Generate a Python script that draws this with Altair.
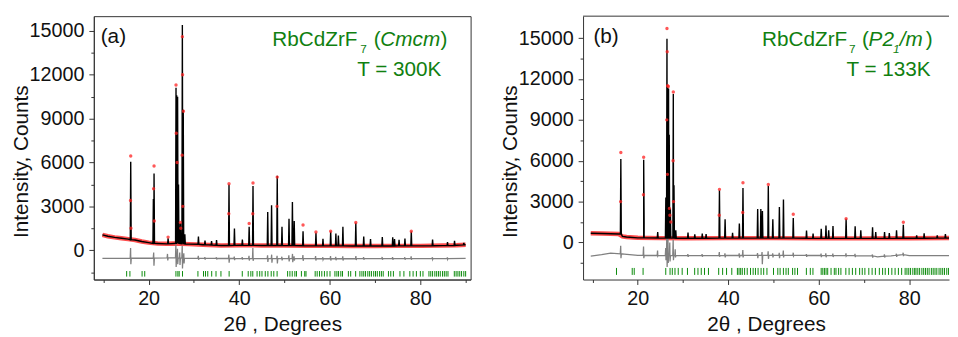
import altair as alt
import pandas as pd

FONT = "Liberation Sans"
GREEN = "#108010"

# ---------------- Panel (a): RbCdZrF7 (Cmcm), T = 300 K ----------------
a_bg_x = [9.8, 11.0, 12.5, 14.0, 15.5, 17.0, 18.5, 20.0, 22.0, 24.0,
          25.5, 29.0, 32.0, 36.0, 40.0, 45.0, 50.0, 55.0, 60.0, 65.0,
          70.0, 75.0, 80.0, 85.0, 88.0, 90.0]
a_bg_y = [1050, 960, 880, 820, 760, 700, 600, 520, 460, 440,
          460, 420, 380, 330, 340, 330, 320, 300, 300, 290,
          290, 300, 300, 320, 340, 380]

a_pk_pos = [16.05, 21.05, 21.2, 24.3, 26.05, 26.2, 26.4, 26.6, 27.0, 27.45,
            27.65, 28.0, 31.0, 32.45, 33.9, 35.0, 37.75, 38.95, 40.7, 42.2,
            43.05, 46.3, 47.15, 48.4, 49.45, 51.0, 51.75, 52.15, 54.1, 56.95,
            58.5, 60.2, 61.35, 61.9, 62.9, 65.75, 67.5, 69.0, 71.6, 73.9,
            74.3, 75.3, 76.6, 78.0, 82.7, 86.0, 87.55, 89.6]
a_pk_top = [6050, 3500, 5250, 820, 11100, 10600, 10500, 4500, 1850, 15400,
            9600, 1100, 940, 670, 620, 700, 4490, 1490, 740, 1610,
            4400, 2620, 3070, 5090, 1610, 2150, 3300, 2000, 1300, 1190,
            780, 1280, 1140, 1000, 1600, 1880, 940, 760, 910, 890,
            760, 720, 800, 1280, 740, 560, 640, 500]
a_pk_base = [720, 470, 470, 440, 470, 470, 470, 470, 460, 450,
             450, 440, 410, 380, 360, 345, 330, 335, 340, 335,
             335, 330, 330, 325, 325, 320, 320, 320, 310, 300,
             300, 300, 300, 300, 300, 290, 290, 290, 290, 295,
             295, 300, 300, 300, 310, 320, 330, 370]

a_obs_x = [16.05, 16.0, 16.1, 21.2, 21.1, 21.25, 24.3, 26.05, 26.1, 26.3,
           27.0, 27.1, 27.45, 27.4, 27.5, 27.55, 27.7, 37.75, 37.7, 42.2,
           43.05, 43.0, 48.4, 48.35, 54.1, 56.95, 60.2, 65.75, 78.0]
a_obs_y = [6440, 3400, 1500, 5760, 4200, 2000, 900, 11300, 8000, 6000,
           1900, 1500, 14600, 6500, 12000, 3000, 9500, 4550, 2500, 1830,
           4600, 2500, 5000, 3000, 1730, 1250, 1300, 1900, 1300]

a_df_x = [9.8, 24.0, 30.0, 60.0, 90.0]
a_df_y = [-560, -520, -560, -580, -560]
a_sp_pos = [16.05, 21.15, 24.2, 26.05, 26.4, 26.9, 27.45, 27.8, 31.0, 32.45,
            35.0, 37.75, 38.95, 40.7, 42.2, 43.05, 46.3, 47.2, 48.4, 49.45,
            51.0, 51.8, 52.15, 54.1, 56.9, 58.5, 60.2, 61.35, 62.9, 65.8,
            67.5, 71.6, 73.9, 76.6, 78.0, 82.7, 86.0]
a_sp_hi = [150, -150, -250, 400, 100, -150, 300, -200, -380, -470,
           -480, -300, -430, -470, -380, 150, -350, -300, -380, -440,
           -350, -250, -420, -330, -400, -480, -400, -450, -420, -400,
           -470, -460, -470, -480, -420, -480, -490]
a_sp_lo = [-950, -1050, -700, -1150, -950, -1000, -1250, -900, -650, -640,
           -630, -850, -680, -640, -700, -720, -800, -850, -900, -690,
           -760, -820, -700, -720, -700, -640, -700, -680, -700, -660,
           -650, -650, -640, -650, -650, -630, -620]
a_sp_base = [-545, -535, -520, -525, -528, -532, -535, -540, -555, -558,
             -560, -562, -563, -564, -565, -566, -568, -569, -570, -571,
             -572, -572, -573, -575, -577, -579, -580, -580, -579, -577,
             -576, -574, -573, -572, -570, -567, -564]

a_bragg = [15.15, 15.87, 18.56, 19.14, 26.03, 26.46, 26.75, 27.48, 30.89, 32.12,
           32.56, 33.06, 33.93, 34.88, 35.97, 37.78, 40.68, 41.99, 42.57, 43.0,
           43.95, 44.53, 45.03, 45.76, 46.34, 47.07, 47.64, 48.37, 50.69, 51.2,
           51.71, 52.29, 52.65, 53.74, 54.47, 54.75, 56.78, 57.22, 57.73, 58.24,
           58.82, 59.4, 60.05, 61.14, 61.57, 61.94, 62.44, 62.81, 64.11, 64.62,
           65.71, 66.65, 67.1, 67.5, 67.9, 68.4, 68.8, 69.2, 69.7, 70.1,
           70.5, 71.0, 71.4, 71.8, 72.96, 73.47, 74.05, 75.5, 76.37, 77.68,
           78.4, 79.13, 80.0, 80.58, 81.9, 82.3, 82.7, 83.2, 83.6, 84.0,
           84.4, 84.9, 85.3, 85.7, 86.1, 87.5, 87.9, 88.3, 88.7, 89.1,
           89.6, 90.0]

# ---------------- Panel (b): RbCdZrF7 (P21/m), T = 133 K ----------------
b_bg_x = [9.6, 12.0, 14.0, 15.8, 16.6, 17.5, 20.0, 25.0, 30.0, 40.0,
          50.0, 60.0, 70.0, 80.0, 90.0]
b_bg_y = [680, 660, 640, 620, 450, 400, 340, 320, 310, 320,
          320, 300, 300, 310, 330]

b_pk_pos = [16.25, 21.3, 21.4, 24.4, 26.2, 26.45, 26.6, 26.8, 26.95, 27.2,
            27.85, 28.0, 28.4, 31.1, 32.6, 34.25, 35.1, 38.05, 39.3, 40.95,
            42.45, 43.25, 46.5, 47.2, 47.55, 48.85, 49.85, 51.3, 52.2, 54.37,
            57.3, 58.75, 60.55, 61.6, 62.2, 63.15, 66.05, 68.05, 69.3, 71.9,
            72.6, 74.55, 75.6, 77.2, 78.7, 81.65, 83.3, 86.2, 88.0]
b_pk_top = [6120, 6070, 1500, 770, 3300, 14950, 11400, 11300, 7900, 2500,
            10900, 4200, 900, 720, 600, 650, 620, 3830, 1700, 700,
            1400, 4000, 2460, 2450, 2300, 4150, 1700, 2600, 3150, 1800,
            870, 650, 1010, 1250, 900, 1200, 1740, 1180, 890, 1120,
            770, 770, 700, 890, 1300, 530, 680, 530, 620]
b_pk_base = [620, 340, 340, 325, 320, 320, 320, 320, 320, 320,
             318, 318, 315, 310, 310, 312, 314, 318, 320, 320,
             320, 320, 320, 320, 320, 320, 320, 320, 318, 316,
             308, 305, 302, 302, 302, 301, 300, 300, 300, 301,
             302, 304, 305, 306, 308, 311, 314, 318, 322]

b_obs_x = [16.25, 16.2, 21.3, 21.25, 26.45, 26.4, 26.5, 26.55, 26.6, 26.75,
           27.0, 27.1, 27.3, 27.85, 27.8, 27.9, 38.05, 38.0, 43.25, 43.2,
           48.85, 54.37, 66.05, 78.7]
b_obs_y = [6600, 3000, 6260, 3500, 15700, 9000, 14000, 5000, 11500, 11450,
           2500, 2000, 1500, 11050, 6000, 3000, 3900, 2000, 4380, 2200,
           4260, 2070, 1750, 1490]

b_df_x = [9.6, 12.0, 14.0, 17.0, 20.0, 30.0, 50.0, 70.0, 73.0, 76.0,
          78.5, 80.0, 90.0]
b_df_y = [-1000, -900, -780, -850, -950, -960, -950, -980, -1050, -980,
          -900, -970, -970]
b_sp_pos = [16.25, 21.3, 24.4, 26.2, 26.45, 26.7, 27.1, 27.85, 28.3, 31.1,
            34.25, 38.05, 39.3, 42.45, 43.25, 46.5, 47.5, 48.85, 49.85, 51.3,
            52.2, 54.4, 57.3, 60.55, 61.6, 63.15, 66.05, 68.05, 71.9, 74.55,
            77.2, 78.7]
b_sp_hi = [-250, -300, -600, -400, 650, 300, 0, 200, -500, -850,
           -860, -700, -800, -800, -550, -780, -700, -650, -800, -760,
           -600, -750, -860, -820, -800, -810, -800, -840, -880, -870,
           -830, -750]
b_sp_lo = [-1150, -1150, -1000, -1300, -1800, -1500, -1400, -1300, -1100, -1060,
           -1050, -1050, -1100, -1120, -1100, -1150, -1600, -1200, -1100, -1150,
           -1100, -1000, -1060, -1080, -1090, -1070, -1000, -1080, -1120, -1100,
           -1060, -1000]
b_sp_base = [-830, -950, -955, -958, -958, -958, -958, -958, -958, -959,
             -959, -958, -957, -956, -955, -954, -953, -952, -952, -951,
             -951, -951, -954, -957, -958, -960, -962, -965, -990, -1010,
             -940, -900]

b_bragg = [15.29, 18.77, 19.21, 21.17, 26.18, 27.13, 27.63, 28.22, 28.94, 29.81,
           30.98, 32.57, 33.3, 34.03, 34.75, 35.62, 37.88, 38.75, 39.62, 40.78,
           42.02, 42.38, 42.74, 43.1, 43.61, 44.19, 44.92, 45.5, 46.01, 46.59,
           47.25, 47.83, 48.55, 50.0, 50.95, 51.46, 52.19, 52.77, 53.28, 54.22,
           54.73, 55.31, 57.27, 58.14, 58.72, 60.54, 60.9, 61.26, 61.62, 61.98,
           62.72, 63.44, 63.81, 64.39, 64.9, 65.99, 66.71, 67.44, 68.17, 69.04,
           69.62, 70.2, 71.07, 71.8, 72.52, 73.4, 74.12, 74.7, 75.43, 76.16,
           76.88, 77.61, 78.33, 79.1, 79.5, 79.9, 80.3, 80.8, 81.2, 81.5,
           81.9, 82.3, 82.8, 83.2, 83.6, 84.0, 84.4, 84.9, 85.3, 85.7,
           86.1, 86.6, 87.0, 87.4, 87.8, 88.3, 88.7]

y_tick_values = [-1500, 0, 1500, 3000, 4500, 6000, 7500, 9000, 10500, 12000, 13500, 15000]


def calc_table(bg_x, bg_y, pos, top, base, hw=0.1):
    xs, ys = list(bg_x), list(bg_y)
    for p, t, b in zip(pos, top, base):
        xs += [p - hw, p, p + hw]
        ys += [b, t, b]
    df = pd.DataFrame({"x": xs, "y": ys}).sort_values("x", kind="mergesort").reset_index(drop=True)
    df["i"] = range(len(df))
    return df


def diff_table(kx, ky, pos, hi, lo, base):
    xs, ys = list(kx), list(ky)
    for p, h, l, b in zip(pos, hi, lo, base):
        xs += [p - 0.12, p - 0.03, p + 0.03, p + 0.12]
        ys += [b, h, l, b]
    df = pd.DataFrame({"x": xs, "y": ys}).sort_values("x", kind="mergesort").reset_index(drop=True)
    df["i"] = range(len(df))
    return df


def text_layer(txt, x, y, size=21, italic=False, color=GREEN):
    return alt.Chart(pd.DataFrame({"t": [txt]})).mark_text(
        align="left", baseline="alphabetic", font=FONT, fontSize=size,
        fontStyle="italic" if italic else "normal", color=color,
    ).encode(text="t:N", x=alt.value(x), y=alt.value(y))


def panel(width, xdom, ydom, xticks, bg, calc, obs, diff, bragg, tlo, thi, texts, frame):
    xs = alt.Scale(domain=xdom, nice=False, zero=False)
    ys = alt.Scale(domain=ydom, nice=False, zero=False)
    xaxis = alt.Axis(
        values=xticks, title="2θ , Degrees", grid=False,
        labelExpr="datum.value % 20 == 0 ? datum.label : ''",
        tickSize={"condition": {"test": "datum.value % 20 == 0", "value": 5}, "value": 3},
        labelPadding=4, titlePadding=6, labelFlush=False,
    )
    yaxis = alt.Axis(
        values=y_tick_values, title="Intensity, Counts", grid=False, format="d",
        labelExpr="datum.value % 3000 == 0 ? datum.label : ''",
        tickSize={"condition": {"test": "datum.value % 3000 == 0", "value": 5}, "value": 3},
        labelPadding=5, titleX=-73, titleY=147, titleAngle=270,
        titleAlign="center", titleBaseline="middle", labelFlush=False,
    )
    X = alt.X("x:Q", scale=xs, axis=xaxis)
    Y = alt.Y("y:Q", scale=ys, axis=yaxis)

    bg_df = pd.DataFrame({"x": bg[0], "y": bg[1]})
    bg_df["i"] = range(len(bg_df))
    obs_df = pd.DataFrame({"x": obs[0], "y": obs[1]})
    bragg_df = pd.DataFrame({"x": bragg, "lo": [tlo] * len(bragg), "hi": [thi] * len(bragg)})

    layers = [
        alt.Chart(bg_df).mark_line(color="#ff2020", strokeWidth=4.5, opacity=0.8, clip=True)
        .encode(x=X, y=Y, order="i:Q"),
        alt.Chart(diff).mark_line(color="#808080", strokeWidth=1.3, clip=True)
        .encode(x=X, y=Y, order="i:Q"),
        alt.Chart(bragg_df).mark_rule(color="#0a8a0a", strokeWidth=1, clip=True)
        .encode(x=X, y=alt.Y("lo:Q", scale=ys, axis=yaxis), y2="hi:Q"),
        alt.Chart(calc).mark_line(color="#000000", strokeWidth=1.4, clip=True)
        .encode(x=X, y=Y, order="i:Q"),
        alt.Chart(obs_df).mark_circle(color="#ff2020", size=12, opacity=0.75, clip=True)
        .encode(x=X, y=Y),
    ]
    layers += texts
    if not frame:
        layers.append(
            alt.Chart(pd.DataFrame({"t": [0]})).mark_rule(color="#333333", strokeWidth=1)
            .encode(x=alt.value(0), x2=alt.value(width), y=alt.value(0))
        )
    return alt.layer(*layers).properties(
        width=width, height=267,
        view=alt.ViewBackground(stroke="#333333" if frame else "transparent", strokeWidth=1),
    )


texts_a = [
    text_layer("(a)", 7, 27, color="#111111"),
    text_layer("RbCdZrF", 181, 30.3),
    text_layer("7", 270, 37.5, size=12),
    text_layer("(", 283.7, 30.3),
    text_layer("Cmcm", 290.5, 30.3, italic=True),
    text_layer(")", 351.5, 30.3),
    text_layer("T = 300K", 267, 60.5),
]
texts_b = [
    text_layer("(b)", 10.5, 27, color="#111111"),
    text_layer("RbCdZrF", 181.5, 30.3),
    text_layer("7", 269.5, 37.5, size=12),
    text_layer("(", 282.7, 30.3),
    text_layer("P2", 289.5, 30.3, italic=True),
    text_layer("1", 314.3, 37.5, size=12, italic=True),
    text_layer("/m", 321, 30.3, italic=True),
    text_layer(")", 347.5, 30.3),
    text_layer("T = 133K", 267, 60.5),
]

pa = panel(
    382, [7.9, 91.1], [-2000, 16000], [10, 20, 30, 40, 50, 60, 70, 80, 90],
    (a_bg_x, a_bg_y),
    calc_table(a_bg_x, a_bg_y, a_pk_pos, a_pk_top, a_pk_base),
    (a_obs_x, a_obs_y),
    diff_table(a_df_x, a_df_y, a_sp_pos, a_sp_hi, a_sp_lo, a_sp_base),
    a_bragg, -1420, -1800, texts_a, True,
)
pb = panel(
    371, [7.9, 88.8], [-2720, 16610], [10, 20, 30, 40, 50, 60, 70, 80],
    (b_bg_x, b_bg_y),
    calc_table(b_bg_x, b_bg_y, b_pk_pos, b_pk_top, b_pk_base),
    (b_obs_x, b_obs_y),
    diff_table(b_df_x, b_df_y, b_sp_pos, b_sp_hi, b_sp_lo, b_sp_base),
    b_bragg, -1870, -2380, texts_b, False,
)

chart = alt.hconcat(pa, pb, spacing=28).properties(
    padding={"left": 2, "top": 5, "right": 0, "bottom": 0},
    background="white",
).configure_axis(
    labelFont=FONT, titleFont=FONT, labelFontSize=20, titleFontSize=21,
    titleFontWeight="normal", labelColor="#111111", titleColor="#111111",
    domainColor="#333333", tickColor="#333333", domainWidth=1, tickWidth=1,
)

chart.save("out.html", embed_options={"renderer": "svg", "actions": False})
